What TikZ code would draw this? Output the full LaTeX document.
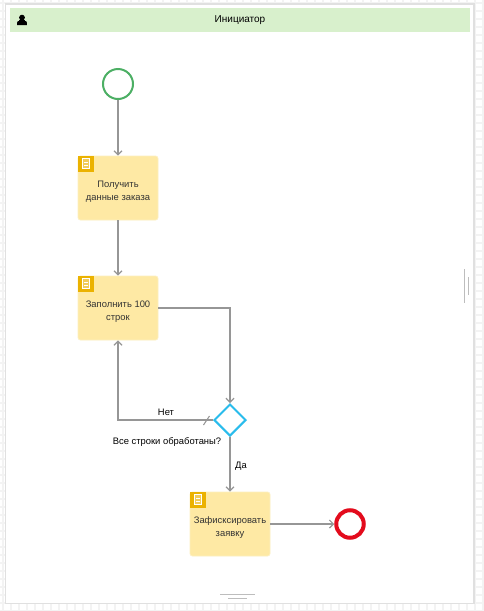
\documentclass[tikz,border=0pt]{standalone}
\usepackage{fontspec}
\setmainfont{Liberation Sans}
\usetikzlibrary{arrows.meta,shapes.geometric}
\definecolor{lane}{HTML}{D8F0CC}
\definecolor{taskfill}{HTML}{FEE9A4}
\definecolor{taskedge}{HTML}{FDEFC0}
\definecolor{iconbg}{HTML}{EBB200}
\definecolor{flow}{HTML}{969696}
\definecolor{gridc}{HTML}{F3F3F3}
\definecolor{framec}{HTML}{E0E0E0}
\definecolor{startc}{HTML}{4CAF64}
\definecolor{endc}{HTML}{E30B1C}
\definecolor{gatec}{HTML}{29BCEC}
\definecolor{grip}{HTML}{BDBDBD}
\tikzset{
 task/.style={draw=taskedge,line width=.8pt,fill=taskfill,rounded corners=2.5pt,minimum width=80pt,minimum height=64pt,inner sep=0pt},
 tasktext/.style={inner sep=0pt,align=center,font=\fontsize{9.4}{13}\selectfont,text=black!80},
 flowline/.style={draw=flow,line width=1.7pt,-{Straight Barb[length=4pt,width=8pt,line width=1.2pt]}},
 lbl/.style={font=\fontsize{9.4}{11}\selectfont,text=black,inner sep=0pt},
 iconsq/.style={fill=iconbg,draw=none,minimum size=16pt,inner sep=0pt},
 grippy/.style={draw=grip,line width=.7pt},
}
\newcommand{\docicon}[1]{%
 \node[iconsq,anchor=north west] (#1i) at (#1.north west) {};
 \draw[white,line width=.8pt,fill=white,fill opacity=.35] ([shift={(-3.5,-5)}]#1i.center) rectangle ([shift={(3.5,5)}]#1i.center);
 \draw[white,line width=.7pt] ([shift={(-2,-1)}]#1i.center) -- ([shift={(2,-1)}]#1i.center) ([shift={(-2,1.5)}]#1i.center) -- ([shift={(2,1.5)}]#1i.center);
}
\begin{document}
\begin{tikzpicture}[x=1pt,y=-1pt]
\useasboundingbox (0,0) rectangle (483,611);
\fill[white] (0,0) rectangle (483,611);
% page grid
\foreach \x in {0,8,...,483} \draw[gridc,line width=1.6pt] (\x+3,0) -- (\x+3,611);
\foreach \y in {0,8,...,611} \draw[gridc,line width=1.6pt] (0,\y+3) -- (483,\y+3);
\fill[white] (5.5,4) rectangle (474,603.5);
\draw[framec,line width=1.5pt] (5.5,4) rectangle (474,603.5);
% lane
\node[fill=lane,draw=none,minimum width=460pt,minimum height=24pt,inner sep=0pt,anchor=north west] (lanehead) at (10,8) {};
\node[font=\fontsize{10}{12}\selectfont,inner sep=0pt] (lanetitle) at (240,20.5) {Инициатор};
\fill[black] (22,17.6) circle (2.9pt);
\fill[black] (18.8,19.6) rectangle (25.2,21);
\fill[black] (17.2,22.4) -- (18,21) -- (26,21) -- (26.8,22.4) -- (26.8,25) -- (17.2,25) -- cycle;
% nodes
\node[circle,draw=startc,fill=white,line width=2pt,minimum size=30pt,inner sep=0pt] (start) at (118,84) {};
\node[task] (t1) at (118,188) {};
\node[tasktext] (t1text) at (118,192) {Получить\\данные заказа};
\node[task] (t2) at (118,308) {};
\node[tasktext] (t2text) at (118,312) {Заполнить 100\\строк};
\node[diamond,draw=gatec,fill=white,line width=2pt,minimum width=32pt,minimum height=32pt,inner sep=0pt] (gw) at (230,420) {};
\node[task] (t3) at (230,524) {};
\node[tasktext] (t3text) at (230,527.5) {Зафисксировать\\заявку};
\node[circle,draw=endc,fill=white,line width=4pt,minimum size=27.5pt,inner sep=0pt] (stop) at (350,524) {};
\docicon{t1}
\docicon{t2}
\docicon{t3}
% connectors
\draw[flowline] (start) -- (t1);
\draw[flowline] (t1) -- (t2);
\draw[flowline] (t2.east) -| (gw.north);
\draw[flowline] (gw.west) -| (t2.south);
\draw[flowline] (gw.south) -- (t3.north);
\draw[flowline] (t3.east) -- (stop.west);
\coordinate (slashA) at (203.5,425);
\coordinate (slashB) at (209.5,416);
\draw[flow,line width=1pt] (slashA) -- (slashB);
% labels
\node[lbl] (no) at (166,412.5) {Нет};
\node[lbl] (question) at (167,442.5) {Все строки обработаны?};
\node[lbl] (yes) at (241,466) {Да};
% grips
\coordinate (ga) at (464.5,269); \coordinate (gb) at (464.5,303);
\coordinate (gc) at (468.3,277); \coordinate (gd) at (468.3,295);
\draw[grippy] (ga) -- (gb) (gc) -- (gd);
\coordinate (ge) at (220,594); \coordinate (gf) at (255,594);
\coordinate (gg) at (228,598); \coordinate (gh) at (247,598);
\draw[grippy] (ge) -- (gf) (gg) -- (gh);
\end{tikzpicture}
\end{document}
